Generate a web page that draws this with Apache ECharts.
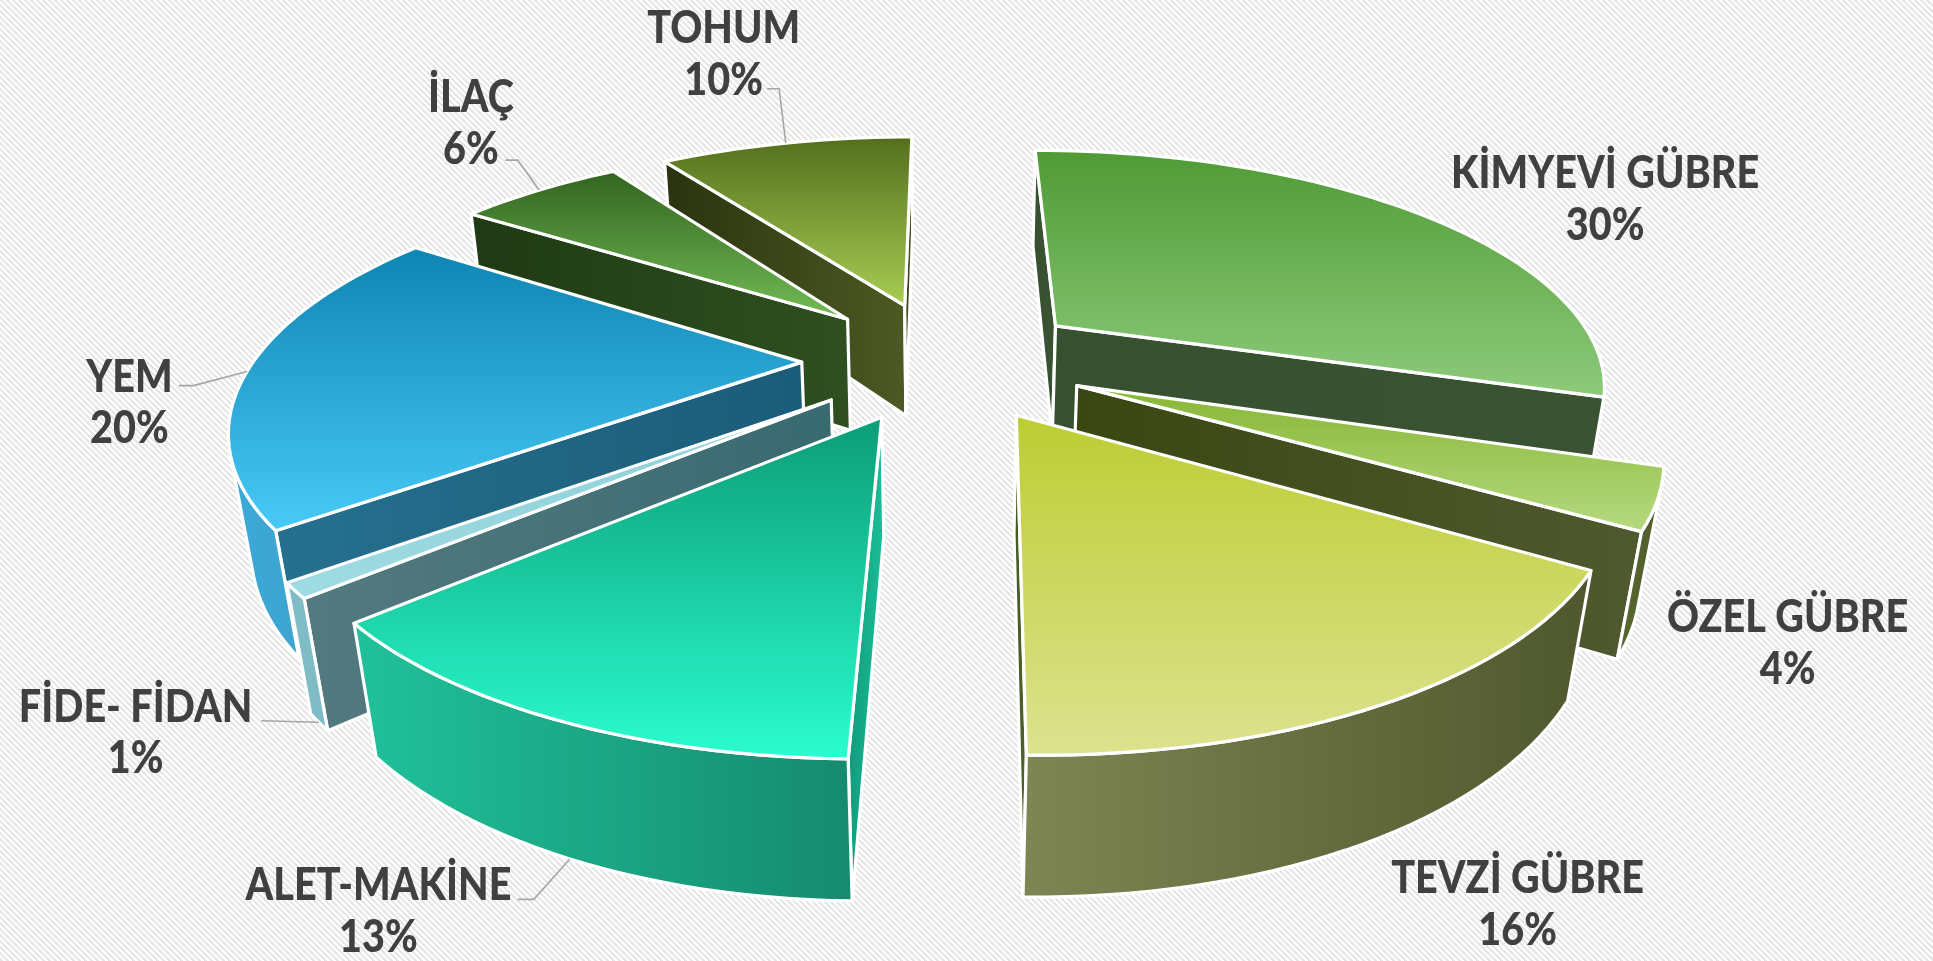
<!DOCTYPE html>
<html>
<head>
<meta charset="utf-8">
<title>Pie</title>
<script src="https://cdn.jsdelivr.net/npm/echarts@6/dist/echarts.min.js"></script>
<style>
  html, body { margin: 0; height: 100%; background: #fff; }
  #chart { width: 1933px; height: 961px; }
</style>
</head>
<body>
<div id="chart"></div>
<script>
const categories = ['KİMYEVİ GÜBRE', 'ÖZEL GÜBRE', 'TEVZİ GÜBRE', 'ALET-MAKİNE', 'FİDE- FİDAN', 'YEM', 'İLAÇ', 'TOHUM'];
// printed as whole percents; the unrounded shares are estimated from the slice angles
const values = [30, 3.83, 16.44, 13.08, 0.94, 20.14, 6.06, 9.5];

// top face gradient [far, near], radial wall, outer wall [left, right]
const topColors = [
  ['#4f9a35', '#8ecb7c'], ['#86b534', '#b6da80'], ['#bccd32', '#dde28f'], ['#0b9c76', '#2bfdd0'],
  ['#8ccfd8', '#9fdbe2'], ['#0e84b2', '#48caf7'], ['#32631f', '#74bd57'], ['#536e1c', '#a8ce54'],
];
const wallColors = [
  ['#365030', '#3a5433'], ['#394712', '#50592f'], ['#3f5a20', '#566030'], ['#0f9a7a', '#1cc09a'],
  ['#547a80', '#386a70'], ['#26708f', '#1b5c78'], ['#1f3a14', '#2f5020'], ['#2a330e', '#4c5a24'],
];
const outerColors = [
  ['#3a5433', '#3a5433'], ['#5a6a30', '#4f5a2c'], ['#7e8654', '#4f572d'], ['#20c29b', '#158a6e'],
  ['#7fbcc6', '#7fbcc6'], ['#3aa9d8', '#3fa4cf'], ['#2f5020', '#2f5020'], ['#4c5a24', '#4c5a24'],
];

// label centre (name line), leader bend and whether the leader lands on the lower rim
const labelPlaces = [
  { x: 1302, y: 141 }, { x: 1450, y: 501 }, { x: 1231, y: 713 },
  { x: 307, y: 719, bend: [433, 730], from: [420, 730], low: true },
  { x: 110, y: 574, bend: [212, 585], from: [212, 585], low: true },
  { x: 105, y: 306, bend: [157, 313], from: [145, 313] },
  { x: 382, y: 79, bend: [420, 130], from: [410, 130] },
  { x: 587, y: 23, bend: [632, 72], from: [622, 72] },
];

// camera fitted to the reference, in 1568x780 axis units
const VP_X = 766, HORIZON = -513, SPREAD = 805, SCALE_X = 444, PERSP = 0.2321;
const NADIR = 3913, THICK = 0.0308, EXPLODE = 0.26, START = 0;

function project(X, Y, low) {
  const w = 1 - PERSP * Y + (low ? THICK : 0);
  const h = SPREAD + (low ? NADIR * THICK : 0);
  return [VP_X + SCALE_X * X / w, HORIZON + h / w];
}

const total = values.reduce((a, b) => a + b, 0);
let acc = 0;
const slices = values.map((v, i) => {
  const a0 = START + acc / total * Math.PI * 2;
  acc += v;
  const a1 = START + acc / total * Math.PI * 2;
  const mid = (a0 + a1) / 2;
  return { i, a0, a1, mid, ox: Math.sin(mid) * EXPLODE, oy: -Math.cos(mid) * EXPLODE };
});

function onRim(s, a, low) {
  return project(s.ox + Math.sin(a), s.oy - Math.cos(a), low);
}

function area(p) {
  let t = 0;
  for (let k = 0; k < p.length; k++) {
    const q = p[(k + 1) % p.length];
    t += p[k][0] * q[1] - q[0] * p[k][1];
  }
  return t;
}

function vGrad(c) { return new echarts.graphic.LinearGradient(0, 0, 0, 1, [{ offset: 0, color: c[0] }, { offset: 1, color: c[1] }]); }
function hGrad(c) { return new echarts.graphic.LinearGradient(0, 0, 1, 0, [{ offset: 0, color: c[0] }, { offset: 1, color: c[1] }]); }

function renderSlice(params, api) {
  const s = slices[api.value(0)];
  const toPx = p => api.coord(p);
  const edge = { stroke: '#fff', lineWidth: 3.2, lineJoin: 'round' };
  const poly = (pts, fill) => ({
    type: 'polygon',
    shape: { points: pts.map(toPx) },
    style: Object.assign({ fill }, edge),
  });
  const steps = Math.max(4, Math.ceil((s.a1 - s.a0) / 0.03));
  const topRim = [], lowRim = [];
  for (let k = 0; k <= steps; k++) {
    const a = s.a0 + (s.a1 - s.a0) * k / steps;
    topRim.push(onRim(s, a, false));
    lowRim.push(onRim(s, a, true));
  }
  const apexTop = project(s.ox, s.oy, false);
  const apexLow = project(s.ox, s.oy, true);
  const children = [];

  const startWall = [topRim[0], apexTop, apexLow, lowRim[0]];
  if (area(startWall) > 0) children.push(poly(startWall, hGrad(wallColors[s.i])));
  const endWall = [apexTop, topRim[steps], lowRim[steps], apexLow];
  if (area(endWall) > 0) children.push(poly(endWall, hGrad(wallColors[s.i])));

  // outer wall: only the run of rim that faces the camera
  let run = [];
  const flush = () => {
    if (run.length > 1) {
      const a = run.map(k => topRim[k]);
      const b = run.map(k => lowRim[k]).reverse();
      children.push(poly(a.concat(b), hGrad(outerColors[s.i])));
    }
    run = [];
  };
  for (let k = 0; k < steps; k++) {
    const q = [topRim[k + 1], topRim[k], lowRim[k], lowRim[k + 1]];
    if (area(q) > 0) {
      if (!run.length) run.push(k);
      run.push(k + 1);
    } else flush();
  }
  flush();

  children.push(poly([apexTop].concat(topRim), vGrad(topColors[s.i])));
  return { type: 'group', children };
}

function renderLabel(params, api) {
  const i = api.value(0);
  const s = slices[i];
  const place = labelPlaces[i];
  const font = '900 45px Lato, sans-serif';
  const words = (line, dy) => {
    const c = api.coord([place.x, place.y + dy]);
    return {
      type: 'text', x: c[0], y: c[1], scaleX: 0.88,
      style: { text: line, font, fill: '#404040', textAlign: 'center', textVerticalAlign: 'middle' },
    };
  };
  const children = [words(categories[i], 0), words(Math.round(values[i]) + '%', 42)];
  if (place.bend) {
    const a = api.coord(place.from), b = api.coord(place.bend), c = api.coord(onRim(s, s.mid, !!place.low));
    children.push({
      type: 'polyline',
      shape: { points: [a, b, c] },
      style: { fill: null, stroke: '#a6a6a6', lineWidth: 1.6 },
    });
  }
  return { type: 'group', children };
}

const drawOrder = slices.slice().sort((p, q) => p.oy - q.oy).map(s => s.i);

const chart = echarts.init(document.getElementById('chart'), null, { renderer: 'canvas' });

// diagonal hatch of the slide background
const tile = document.createElement('canvas');
tile.width = tile.height = 6;
const tc = tile.getContext('2d');
tc.fillStyle = '#ffffff';
tc.fillRect(0, 0, 6, 6);
tc.fillStyle = '#e6e6e6';
for (let y = 0; y < 6; y++) for (let x = 0; x < 6; x++) if ((x - y + 6) % 6 < 3) tc.fillRect(x, y, 1, 1);

chart.setOption({
  animation: false,
  backgroundColor: { image: tile, repeat: 'repeat' },
  grid: { left: 0, right: 0, top: 0, bottom: 0 },
  xAxis: { type: 'value', min: 0, max: 1568, show: false },
  yAxis: { type: 'value', min: 0, max: 780, inverse: true, show: false },
  series: [
    { type: 'custom', silent: true, clip: false, renderItem: renderSlice, data: drawOrder.map(i => [i]), encode: { x: [], y: [] } },
    { type: 'custom', silent: true, clip: false, z: 3, renderItem: renderLabel, data: categories.map((c, i) => [i]), encode: { x: [], y: [] } },
  ],
});
</script>
</body>
</html>
